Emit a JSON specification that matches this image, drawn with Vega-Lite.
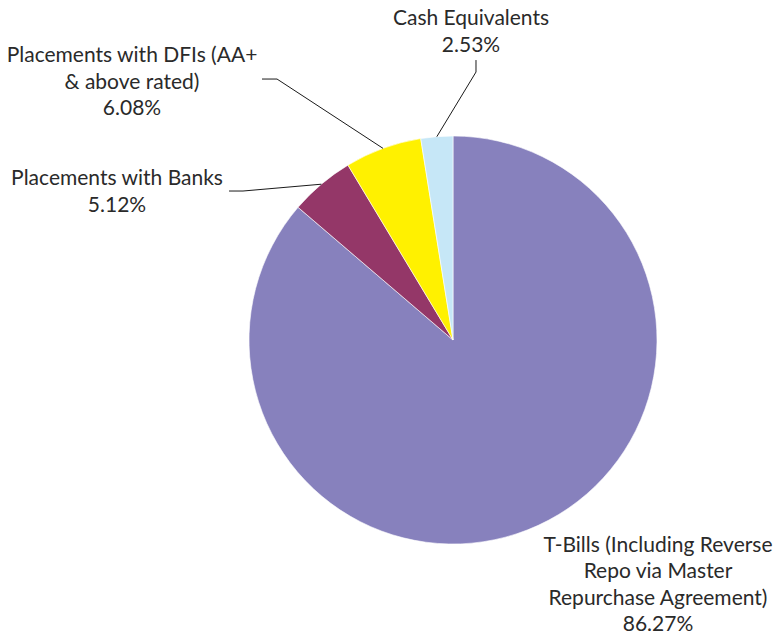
{
  "$schema": "https://vega.github.io/schema/vega-lite/v6.json",
  "width": 654,
  "height": 596,
  "autosize": {"type": "none"},
  "padding": {"left": 126, "top": 42, "right": 1, "bottom": 0},
  "background": "white",
  "config": {"view": {"stroke": null}},
  "datasets": {
    "slices": [
      {"category": "T-Bills (Including Reverse Repo via Master Repurchase Agreement)", "share": 86.27, "order": 1},
      {"category": "Placements with Banks", "share": 5.12, "order": 2},
      {"category": "Placements with DFIs (AA+ & above rated)", "share": 6.08, "order": 3},
      {"category": "Cash Equivalents", "share": 2.53, "order": 4}
    ],
    "leaders": [
      {"category": "Cash Equivalents", "i": 0, "lx": 0.1127, "ly": 1.3725},
      {"category": "Cash Equivalents", "i": 1, "lx": 0.1127, "ly": 1.3137},
      {"category": "Cash Equivalents", "i": 2, "lx": -0.0793, "ly": 0.9968},
      {"category": "Placements with DFIs (AA+ & above rated)", "i": 0, "lx": -0.9363, "ly": 1.2794},
      {"category": "Placements with DFIs (AA+ & above rated)", "i": 1, "lx": -0.8627, "ly": 1.2794},
      {"category": "Placements with DFIs (AA+ & above rated)", "i": 2, "lx": -0.3428, "ly": 0.9394},
      {"category": "Placements with Banks", "i": 0, "lx": -1.098, "ly": 0.7304},
      {"category": "Placements with Banks", "i": 1, "lx": -1.0294, "ly": 0.7304},
      {"category": "Placements with Banks", "i": 2, "lx": -0.6455, "ly": 0.7638}
    ],
    "labels": [
      {"label": "Cash Equivalents\n2.53%", "lx": 0.0882, "ly": 1.5735},
      {"label": "Placements with DFIs (AA+\n& above rated)\n6.08%", "lx": -1.5735, "ly": 1.3922},
      {"label": "Placements with Banks\n5.12%", "lx": -1.647, "ly": 0.7892},
      {"label": "T-Bills (Including Reverse\nRepo via Master\nRepurchase Agreement)\n86.27%", "lx": 1.0049, "ly": -1.0098}
    ]
  },
  "layer": [
    {
      "data": {"name": "slices"},
      "mark": {"type": "arc", "outerRadius": 204, "stroke": "white", "strokeWidth": 0.6},
      "encoding": {
        "theta": {"field": "share", "type": "quantitative", "stack": true},
        "order": {"field": "order", "type": "quantitative"},
        "color": {
          "field": "category",
          "type": "nominal",
          "scale": {
            "domain": ["T-Bills (Including Reverse Repo via Master Repurchase Agreement)", "Placements with Banks", "Placements with DFIs (AA+ & above rated)", "Cash Equivalents"],
            "range": ["#8781bd", "#943768", "#fff100", "#c6e7f7"]
          },
          "legend": null
        }
      }
    },
    {
      "data": {"name": "leaders"},
      "mark": {"type": "line", "color": "#1a1a1a", "strokeWidth": 1},
      "encoding": {
        "x": {"field": "lx", "type": "quantitative", "scale": {"domain": [-1.603, 1.603], "nice": false, "zero": false}, "axis": null},
        "y": {"field": "ly", "type": "quantitative", "scale": {"domain": [-1.461, 1.461], "nice": false, "zero": false}, "axis": null},
        "detail": {"field": "category"},
        "order": {"field": "i", "type": "quantitative"}
      }
    },
    {
      "data": {"name": "labels"},
      "mark": {"type": "text", "lineBreak": "\n", "font": "Lato", "fontSize": 21, "lineHeight": 26.5, "align": "center", "baseline": "middle", "color": "#2a2a2a"},
      "encoding": {
        "x": {"field": "lx", "type": "quantitative", "scale": {"domain": [-1.603, 1.603], "nice": false, "zero": false}, "axis": null},
        "y": {"field": "ly", "type": "quantitative", "scale": {"domain": [-1.461, 1.461], "nice": false, "zero": false}, "axis": null},
        "text": {"field": "label"}
      }
    }
  ]
}
